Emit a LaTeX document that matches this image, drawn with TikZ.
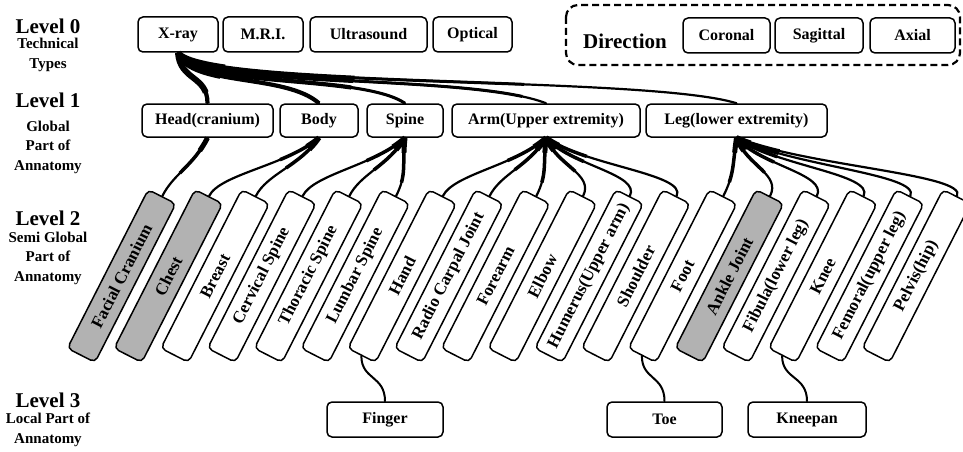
\documentclass[tikz,border=0pt]{standalone}
\usepackage{fontspec}
\setmainfont{Liberation Serif}
\tikzset{tbox/.style = {draw, line width=1.5pt, rounded corners=5pt, fill=white, inner sep=0pt, font=\fontsize{16}{18}\selectfont\bfseries}}
\tikzset{partbox/.style = {tbox, minimum width=178pt, minimum height=31pt, rotate=63, font=\fontsize{17}{18}\selectfont\bfseries}}
\tikzset{greybox/.style = {fill=black!30}}
\tikzset{dirframe/.style = {draw, line width=2.2pt, dash pattern=on 7pt off 4pt, rounded corners=12pt}}
\tikzset{lvhead/.style = {font=\fontsize{21}{22}\selectfont\bfseries}}
\tikzset{lvtext/.style = {align=center, font=\fontsize{15}{19.5}\selectfont\bfseries}}
\tikzset{trunk/.style = {line width=2.2pt, line cap=round,
	preaction={draw, line width=6pt, dash pattern=on 50pt off 4000pt},
	preaction={draw, line width=4.2pt, dash pattern=on 180pt off 4000pt},
	preaction={draw, line width=3pt, dash pattern=on 350pt off 4000pt}}}
\tikzset{twig/.style = {line width=2.2pt, line cap=round,
	preaction={draw, line width=5pt, dash pattern=on 15pt off 4000pt},
	preaction={draw, line width=3.5pt, dash pattern=on 45pt off 4000pt}}}
\tikzset{stem/.style = {line width=2pt, line cap=round}}

\begin{document}
\begin{tikzpicture}[x=1pt, y=-1pt]
	\useasboundingbox (0,0) rectangle (963,452);
	\def\PX{121.6}
	\def\PS{46.75}
	\def\PY{276}
	
	% level labels
	\node[lvhead] (lv0) at (48,26) {Level 0};
	\node[lvtext] (lv0t) at (48,55) {Technical\\Types};
	\node[lvhead] (lv1) at (48,100) {Level 1};
	\node[lvtext] (lv1t) at (48,147) {Global\\Part of\\Annatomy};
	\node[lvhead] (lv2) at (48,218) {Level 2};
	\node[lvtext] (lv2t) at (48,258) {Semi Global\\Part of\\Annatomy};
	\node[lvhead] (lv3) at (48,400) {Level 3};
	\node[lvtext] (lv3t) at (48,430) {Local Part of\\Annatomy};
	
	% level 0
	\node[tbox, minimum width=80pt, minimum height=35pt] (xray) at (178,34.5) {X-ray};
	\node[tbox, minimum width=80pt, minimum height=35pt] (mri) at (263,34.5) {M.R.I.};
	\node[tbox, minimum width=117pt, minimum height=35pt] (us) at (368.5,34.5) {Ultrasound};
	\node[tbox, minimum width=79pt, minimum height=35pt] (optical) at (472.5,34.5) {Optical};
	
	% direction
	\draw[dirframe] (566,5) rectangle (960,65);
	\node[lvhead] (dir) at (625,41) {Direction};
	\node[tbox, minimum width=87pt, minimum height=35pt] (coronal) at (726.5,35.5) {Coronal};
	\node[tbox, minimum width=88pt, minimum height=35pt] (sagittal) at (819,35.5) {Sagittal};
	\node[tbox, minimum width=85pt, minimum height=35pt] (axial) at (912.5,35.5) {Axial};
	
	% level 1
	\node[tbox, minimum width=131pt, minimum height=33pt] (head) at (207.5,120.5) {Head(cranium)};
	\node[tbox, minimum width=78pt, minimum height=33pt] (body) at (319,120.5) {Body};
	\node[tbox, minimum width=76pt, minimum height=33pt] (spine) at (405,120.5) {Spine};
	\node[tbox, minimum width=188pt, minimum height=33pt] (arm) at (546,120.5) {Arm(Upper extremity)};
	\node[tbox, minimum width=181pt, minimum height=33pt] (leg) at (736.5,120.5) {Leg(lower extremity)};
	
	% level 2
	\node[partbox, greybox] (fc) at ({\PX+0*\PS},\PY) {Facial Cranium};
	\node[partbox, greybox] (chest) at ({\PX+1*\PS},\PY) {Chest};
	\node[partbox] (breast) at ({\PX+2*\PS},\PY) {Breast};
	\node[partbox] (cerv) at ({\PX+3*\PS},\PY) {Cervical Spine};
	\node[partbox] (thor) at ({\PX+4*\PS},\PY) {Thoracic Spine};
	\node[partbox] (lumb) at ({\PX+5*\PS},\PY) {Lumbar Spine};
	\node[partbox] (hand) at ({\PX+6*\PS},\PY) {Hand};
	\node[partbox] (radio) at ({\PX+7*\PS},\PY) {Radio Carpal Joint};
	\node[partbox] (fore) at ({\PX+8*\PS},\PY) {Forearm};
	\node[partbox] (elbow) at ({\PX+9*\PS},\PY) {Elbow};
	\node[partbox] (hum) at ({\PX+10*\PS},\PY) {Humerus(Upper arm)};
	\node[partbox] (shoul) at ({\PX+11*\PS},\PY) {Shoulder};
	\node[partbox] (foot) at ({\PX+12*\PS},\PY) {Foot};
	\node[partbox, greybox] (ankle) at ({\PX+13*\PS},\PY) {Ankle Joint};
	\node[partbox] (fib) at ({\PX+14*\PS},\PY) {Fibula(lower leg)};
	\node[partbox] (knee) at ({\PX+15*\PS},\PY) {Knee};
	\node[partbox] (fem) at ({\PX+16*\PS},\PY) {Femoral(upper leg)};
	\node[partbox] (pelvis) at ({\PX+17*\PS},\PY) {Pelvis(hip)};
	
	% level 3
	\node[tbox, minimum width=116pt, minimum height=35pt] (finger) at (385,419.5) {Finger};
	\node[tbox, minimum width=115pt, minimum height=35pt] (toe) at (664.5,419.5) {Toe};
	\node[tbox, minimum width=118pt, minimum height=35pt] (kneepan) at (807,419.5) {Kneepan};
	
	% level 0 -> level 1
	\draw[trunk] (xray.south) .. controls +(2,28) and +(0,-28) .. (head.north);
	\draw[trunk] (xray.south) .. controls +(14,34) and +(-34,-30) .. (body.north);
	\draw[trunk] (xray.south) .. controls +(17,36) and +(-45,-30) .. (spine.north);
	\draw[trunk] (xray.south) .. controls +(20,36) and +(-76,-30) .. (arm.north);
	\draw[trunk] (xray.south) .. controls +(25,36) and +(-90,-28) .. (leg.north);
	
	% level 1 -> level 2
	\draw[twig] (head.south) .. controls +(-14,28) and +(11,-22) .. (fc.east);
	\draw[twig] (body.south) .. controls +(-33,28) and +(11,-22) .. (chest.east);
	\draw[twig] (body.south) .. controls +(-19,28) and +(11,-22) .. (breast.east);
	\draw[twig] (spine.south) .. controls +(-31,28) and +(11,-22) .. (cerv.east);
	\draw[twig] (spine.south) .. controls +(-17,28) and +(11,-22) .. (thor.east);
	\draw[twig] (spine.south) .. controls +(-3,28) and +(11,-22) .. (lumb.east);
	\draw[twig] (arm.south) .. controls +(-31,28) and +(11,-22) .. (hand.east);
	\draw[twig] (arm.south) .. controls +(-17,28) and +(11,-22) .. (radio.east);
	\draw[twig] (arm.south) .. controls +(-3,28) and +(11,-22) .. (fore.east);
	\draw[twig] (arm.south) .. controls +(11,28) and +(11,-22) .. (elbow.east);
	\draw[twig] (arm.south) .. controls +(25,28) and +(11,-22) .. (hum.east);
	\draw[twig] (arm.south) .. controls +(39,28) and +(11,-22) .. (shoul.east);
	\draw[twig] (leg.south) .. controls +(-4,28) and +(11,-22) .. (foot.east);
	\draw[twig] (leg.south) .. controls +(10,28) and +(11,-22) .. (ankle.east);
	\draw[twig] (leg.south) .. controls +(24,28) and +(11,-22) .. (fib.east);
	\draw[twig] (leg.south) .. controls +(38,28) and +(11,-22) .. (knee.east);
	\draw[twig] (leg.south) .. controls +(52,28) and +(11,-22) .. (fem.east);
	\draw[twig] (leg.south) .. controls +(66,28) and +(11,-22) .. (pelvis.east);
	
	% level 2 -> level 3
	\draw[stem] (hand.west) .. controls +(0,24) and +(0,-26) .. (finger.north);
	\draw[stem] (foot.west) .. controls +(0,24) and +(0,-26) .. (toe.north);
	\draw[stem] (knee.west) .. controls +(0,24) and +(0,-26) .. (kneepan.north);
\end{tikzpicture}
\end{document}
